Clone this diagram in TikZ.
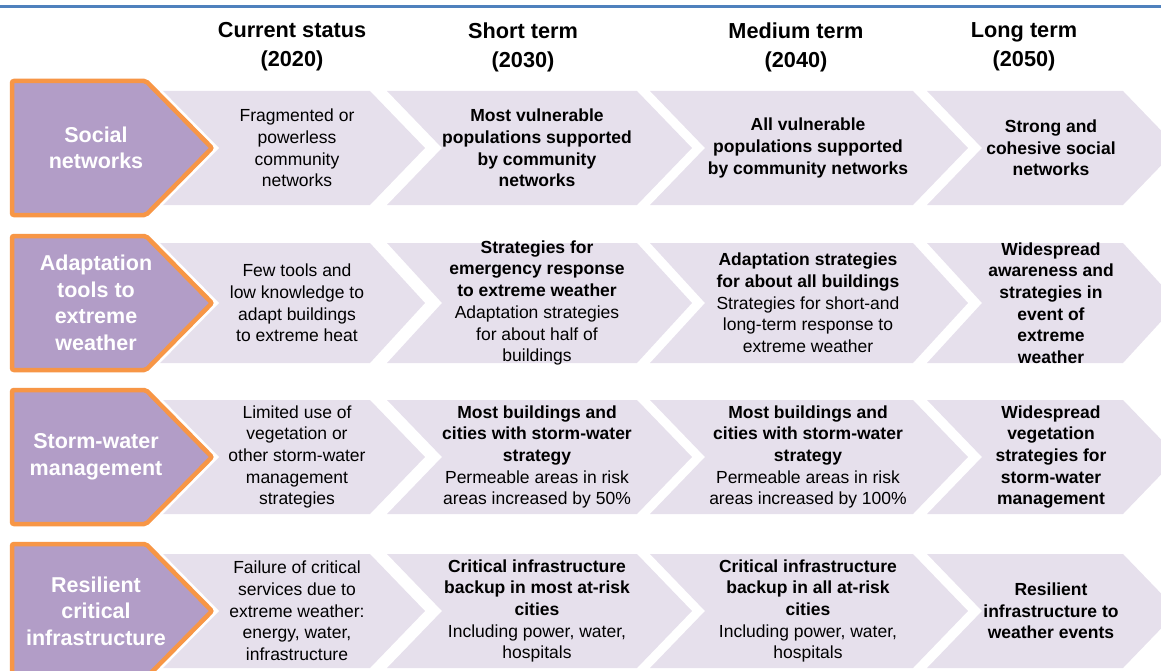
\documentclass[tikz,border=0pt]{standalone}
\usepackage{fontspec}
\setmainfont{Liberation Sans}

\definecolor{labelfill}{HTML}{B29DC7}
\definecolor{labeledge}{HTML}{F79646}
\definecolor{cellfill}{HTML}{E6E0EC}
\definecolor{ruleblue}{HTML}{4F81BD}

\tikzset{
	header/.style={align=center, font=\fontsize{21.7}{29}\selectfont\bfseries},
	rowlabel/.style={align=center, text=white, font=\fontsize{21.5}{26.6}\selectfont\bfseries},
	cell/.style={align=center, font=\fontsize{17.5}{21.7}\selectfont},
	cellb/.style={cell, font=\fontsize{17.5}{21.7}\selectfont\bfseries},
}

\begin{document}
\begin{tikzpicture}[x=1pt, y=-1pt]

	\useasboundingbox (0,0) rectangle (1161,671);
	\clip (0,0) rectangle (1161,671);

	% Top rule
	\draw[ruleblue, line width=3pt] (0,7) -- (1161,7);

	% Column headers
	\node[header] (h2020) at (292,47) {Current status\\(2020)};
	\node[header] (h2030) at (523,47) {Short term\\(2030)};
	\node[header] (h2040) at (796,47) {Medium term\\(2040)};
	\node[header] (h2050) at (1024,47) {Long term\\(2050)};

	% Chevrons and row labels
	\foreach \cy/\ch in {148/57, 303/60, 457/57, 611/57} {
		\fill[cellfill] (160,\cy-\ch) -- (370,\cy-\ch) -- (425,\cy) -- (370,\cy+\ch) -- (160,\cy+\ch) -- cycle;
		\foreach \xa/\xb in {387/637, 650/913, 927/1123}
			\fill[cellfill] (\xa,\cy-\ch) -- (\xb,\cy-\ch) -- (\xb+55,\cy) -- (\xb,\cy+\ch) -- (\xa,\cy+\ch) -- (\xa+55,\cy) -- cycle;
		\draw[white, line width=10pt] (12,\cy-67) -- (146,\cy-67) -- (212,\cy) -- (146,\cy+67) -- (12,\cy+67) -- cycle;
		\draw[labeledge, fill=labelfill, line width=4.5pt, rounded corners=2pt] (12,\cy-67) -- (146,\cy-67) -- (212,\cy) -- (146,\cy+67) -- (12,\cy+67) -- cycle;
	}

	% Social networks
	\node[rowlabel] (social) at (96,148) {Social\\networks};
	\node[cell] (social-2020) at (297,148) {Fragmented or\\powerless\\community\\networks};
	\node[cellb] (social-2030) at (537,148) {Most vulnerable\\populations supported\\by community\\networks};
	\node[cellb] (social-2040) at (808,148) {All vulnerable\\populations supported\\by community networks};
	\node[cellb] (social-2050) at (1051,148) {Strong and\\cohesive social\\networks};

	% Adaptation tools
	\node[rowlabel] (adapt) at (96,303) {Adaptation\\tools to\\extreme\\weather};
	\node[cell] (adapt-2020) at (297,303) {Few tools and\\low knowledge to\\adapt buildings\\to extreme heat};
	\node[cell] (adapt-2030) at (537,303) {\textbf{Strategies for}\\\textbf{emergency response}\\\textbf{to extreme weather}\\Adaptation strategies\\for about half of\\buildings};
	\node[cell] (adapt-2040) at (808,303) {\textbf{Adaptation strategies}\\\textbf{for about all buildings}\\Strategies for short-and\\long-term response to\\extreme weather};
	\node[cellb] (adapt-2050) at (1051,303) {Widespread\\awareness and\\strategies in\\event of\\extreme\\weather};

	% Storm-water
	\node[rowlabel] (storm) at (96,457) {Storm-water\\management};
	\node[cell] (storm-2020) at (297,457) {Limited use of\\vegetation or\\other storm-water\\management\\strategies};
	\node[cell] (storm-2030) at (537,457) {\textbf{Most buildings and}\\\textbf{cities with storm-water}\\\textbf{strategy}\\Permeable areas in risk\\areas increased by 50\%};
	\node[cell] (storm-2040) at (808,457) {\textbf{Most buildings and}\\\textbf{cities with storm-water}\\\textbf{strategy}\\Permeable areas in risk\\areas increased by 100\%};
	\node[cellb] (storm-2050) at (1051,457) {Widespread\\vegetation\\strategies for\\storm-water\\management};

	% Critical infrastructure
	\node[rowlabel] (infra) at (96,611) {Resilient\\critical\\infrastructure};
	\node[cell] (infra-2020) at (297,611) {Failure of critical\\services due to\\extreme weather:\\energy, water,\\infrastructure};
	\node[cell] (infra-2030) at (537,611) {\textbf{Critical infrastructure}\\\textbf{backup in most at-risk}\\\textbf{cities}\\Including power, water,\\hospitals};
	\node[cell] (infra-2040) at (808,611) {\textbf{Critical infrastructure}\\\textbf{backup in all at-risk}\\\textbf{cities}\\Including power, water,\\hospitals};
	\node[cellb] (infra-2050) at (1051,611) {Resilient\\infrastructure to\\weather events};

\end{tikzpicture}
\end{document}
